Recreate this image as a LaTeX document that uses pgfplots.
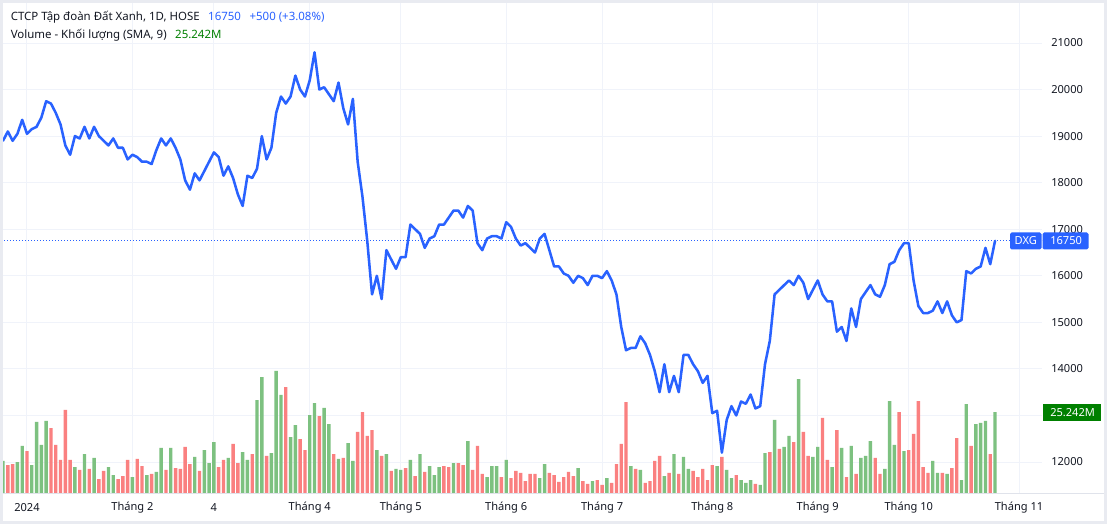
\documentclass[border=0pt]{standalone}
\usepackage{pgfplots}
\pgfplotsset{compat=1.18}
\usepackage{pgfplotstable}
\usepackage{fontspec}
\setmainfont{Noto Sans}
\definecolor{tvblue}{RGB}{41,98,255}
\definecolor{volg}{RGB}{125,193,128}
\definecolor{volr}{RGB}{250,128,128}
\definecolor{gridc}{RGB}{240,243,250}
\definecolor{txt}{RGB}{19,23,34}
\definecolor{dgreen}{RGB}{0,128,0}
\definecolor{framec}{RGB}{233,235,241}
\definecolor{axisc}{RGB}{224,227,235}

\pgfplotstableread{
i p
0 18900
1 19100
2 18900
3 19050
4 19350
5 19050
6 19150
7 19200
8 19400
9 19750
10 19700
11 19500
12 19250
13 18800
14 18600
15 19000
16 18950
17 19200
18 18950
19 19200
20 19000
21 18900
22 18800
23 18950
24 18750
25 18750
26 18500
27 18600
28 18550
29 18450
30 18450
31 18400
32 18700
33 18950
34 18800
35 18950
36 18750
37 18500
38 18050
39 17850
40 18200
41 18050
42 18250
43 18450
44 18650
45 18550
46 18150
47 18350
48 18100
49 17750
50 17500
51 18150
52 18100
53 18300
54 19000
55 18500
56 18750
57 19500
58 19850
59 19700
60 19850
61 20300
62 20000
63 19850
64 20200
65 20800
66 20000
67 20050
68 19900
69 19750
70 20150
71 19600
72 19250
73 19800
74 18450
75 17700
76 16750
77 15600
78 16000
79 15500
80 16550
81 16350
82 16150
83 16400
84 16400
85 17100
86 17000
87 16900
88 16600
89 16800
90 16850
91 17100
92 17100
93 17250
94 17400
95 17400
96 17250
97 17500
98 17400
99 16700
100 16550
101 16800
102 16850
103 16850
104 16800
105 17150
106 17050
107 16800
108 16650
109 16700
110 16600
111 16500
112 16800
113 16900
114 16550
115 16200
116 16200
117 16050
118 16000
119 15850
120 16000
121 15950
122 15800
123 16000
124 16000
125 15950
126 16100
127 15900
128 15600
129 14900
130 14400
131 14450
132 14450
133 14700
134 14550
135 14300
136 13950
137 13500
138 14100
139 13500
140 13850
141 13500
142 14300
143 14300
144 14100
145 13950
146 13700
147 13850
148 13050
149 13100
150 12200
151 12900
152 13200
153 13000
154 13300
155 13250
156 13450
157 13150
158 13200
159 14100
160 14600
161 15600
162 15700
163 15800
164 15900
165 15800
166 16000
167 15850
168 15500
169 15700
170 15900
171 15600
172 15450
173 15450
174 14800
175 14900
176 14600
177 15300
178 14900
179 15500
180 15650
181 15800
182 15600
183 15550
184 15800
185 16250
186 16300
187 16550
188 16700
189 16700
190 15900
191 15350
192 15200
193 15200
194 15250
195 15450
196 15200
197 15450
198 15150
199 15000
200 15050
201 16100
202 16050
203 16150
204 16200
205 16600
206 16250
207 16750
}\pricetab

\pgfplotstableread{
i v
0 10.2
3 9.8
4 14.8
6 8.9
7 22.2
8 15.1
9 22.5
15 8.3
17 12.3
19 11.1
22 8.3
23 5.8
27 5.2
30 5.8
32 6.8
33 14.2
35 14.2
40 11.4
42 13.5
43 9.5
44 16.0
47 11.1
50 12.9
51 10.5
53 28.9
54 36.0
56 12.6
57 37.9
58 30.5
60 17.5
61 21.2
64 24.3
65 28.0
67 26.5
68 21.5
70 10.8
72 15.7
73 10.2
78 13.5
80 12.3
82 7.7
83 7.4
85 10.5
87 12.3
89 8.6
90 5.8
91 8.3
94 9.5
97 16.3
101 5.2
102 8.6
103 8.6
105 10.5
112 4.9
113 9.2
120 8.0
123 4.0
126 4.9
131 8.6
133 7.4
138 5.5
140 12.3
142 11.4
143 7.7
149 8.6
151 7.4
152 4.9
154 4.3
155 3.4
156 4.3
158 2.8
159 12.6
161 22.8
163 14.5
164 17.9
166 35.4
169 11.4
170 14.5
173 8.3
175 14.2
177 14.8
179 11.1
180 11.7
181 16.3
184 7.7
185 28.6
186 15.1
188 13.2
194 10.2
195 6.5
197 6.2
200 4.3
201 27.7
203 21.5
204 21.9
205 22.5
207 25.242
}\greentab

\pgfplotstableread{
i v
1 8.9
2 9.2
5 13.2
10 20.3
11 15.1
12 10.5
13 25.9
14 10.5
16 7.4
18 7.7
20 4.6
21 7.1
24 4.6
25 5.5
26 10.5
28 10.8
29 8.6
31 6.2
34 7.4
36 8.0
37 7.7
38 14.5
39 9.2
41 7.1
45 8.3
46 10.5
48 15.4
49 9.5
52 12.3
55 11.7
59 32.9
62 16.9
63 13.5
66 24.0
69 12.3
71 11.1
74 19.1
75 25.2
76 17.9
77 19.7
79 11.7
81 7.1
84 8.0
86 5.5
88 6.8
92 8.6
93 8.3
95 9.5
96 8.9
98 7.4
99 14.8
100 6.2
104 5.2
106 4.9
107 7.1
108 6.5
109 4.0
110 6.2
111 6.2
114 6.5
115 5.8
116 3.7
117 5.2
118 6.8
119 5.5
121 4.0
122 3.1
124 4.3
125 2.8
127 3.4
128 9.2
129 15.4
130 28.3
132 7.7
134 3.4
135 4.0
136 10.2
137 11.7
139 6.5
141 6.2
144 7.1
145 5.2
146 7.7
147 4.3
148 8.9
150 11.4
153 5.8
157 3.1
160 12.9
162 13.9
165 16.0
167 19.1
168 11.7
171 23.4
172 10.5
174 19.7
176 5.2
178 6.2
182 11.1
183 6.2
187 25.2
189 13.5
190 18.5
191 28.6
192 8.3
193 6.5
196 6.5
198 8.0
199 17.2
202 14.8
206 12.3
}\redtab

\begin{document}
\begin{tikzpicture}
\useasboundingbox (0,0) rectangle (830.25pt,393pt);
\fill[white] (0,0) rectangle (830.25pt,393pt);
\pgfplotsset{base/.style={width=781.5pt,height=370.5pt,scale only axis,
  at={(0pt,22.5pt)},anchor=south west,xmin=-0.634,xmax=216.8,clip=true,
  scaled x ticks=false,scaled y ticks=false}}
% grid and tick labels
\begin{axis}[base,ymin=11313,ymax=21924,
  axis line style={draw=none},major tick length=0pt,
  ytick pos=right,yticklabel pos=right,
  ytick={12000,13000,14000,15000,16000,17000,18000,19000,20000,21000},
  yticklabels={12000,{},14000,15000,16000,17000,18000,19000,20000,21000},
  xtick={5,27,44,64,83,105,125,148,170,189,212},
  xticklabels={{\textbf{2024}},{Tháng 2},{4},{Tháng 4},{Tháng 5},{Tháng 6},{Tháng 7},{Tháng 8},{Tháng 9},{Tháng 10},{Tháng 11}},
  grid=major,major grid style={gridc,line width=0.75pt},
  ticklabel style={font=\fontsize{8.3pt}{10pt}\selectfont,text=txt},
  xticklabel style={anchor=center,yshift=-10.5pt},
  yticklabel style={anchor=west,inner sep=0pt,xshift=6.75pt}]
\addplot[draw=none] coordinates {(0,15000)};
\end{axis}
% volume
\begin{axis}[base,ymin=0,ymax=152.1,hide axis]
\addplot[ybar,bar width=2.55pt,bar shift=0pt,fill=volg,draw=none] table[x=i,y=v]{\greentab};
\addplot[ybar,bar width=2.55pt,bar shift=0pt,fill=volr,draw=none] table[x=i,y=v]{\redtab};
\end{axis}
% price
\begin{axis}[base,ymin=11313,ymax=21924,hide axis]
\addplot[tvblue,line width=0.75pt,dash pattern=on 0.75pt off 1.5pt] coordinates {(-1,16750) (217,16750)};
\addplot[tvblue,line width=1.9pt,line join=round,line cap=round,mark=none] table[x=i,y=p]{\pricetab};
\end{axis}
\begin{scope}[x=0.75pt,y=-0.75pt,shift={(0pt,393pt)}]
\draw[axisc,line width=0.75pt] (0,494) -- (1106,494);
\draw[framec,line width=1.9pt] (1.25,1.25) rectangle (1105.75,522.75);
% legend
\node[anchor=base west,inner sep=0pt,text=txt,font=\fontsize{8.6pt}{10pt}\selectfont] (l1) at (10.5,20.7) {CTCP Tập đoàn Đất Xanh, 1D, HOSE};
\node[anchor=base west,inner sep=0pt,text=tvblue,font=\fontsize{8.6pt}{10pt}\selectfont] (l2) at ([xshift=6pt]l1.base east) {16750};
\node[anchor=base west,inner sep=0pt,text=tvblue,font=\fontsize{8.6pt}{10pt}\selectfont] at ([xshift=6pt]l2.base east) {+500 (+3.08\%)};
\node[anchor=base west,inner sep=0pt,text=txt,font=\fontsize{8.6pt}{10pt}\selectfont] (v1) at (10.5,38.3) {Volume - Khối lượng (SMA, 9)};
\node[anchor=base west,inner sep=0pt,text=dgreen,font=\fontsize{8.6pt}{10pt}\selectfont] at ([xshift=6pt]v1.base east) {25.242M};
% price labels
\fill[tvblue,rounded corners=1.2pt] (1010,232.5) rectangle (1041.5,249.5);
\node[text=white,inner sep=0pt,font=\bfseries\fontsize{8.3pt}{10pt}\selectfont] at (1025.75,241) {DXG};
\fill[tvblue,rounded corners=1.2pt] (1042.5,232.5) rectangle (1088.5,249.5);
\node[text=white,anchor=west,inner sep=0pt,font=\bfseries\fontsize{8.3pt}{10pt}\selectfont] at (1050,241) {16750};
\fill[dgreen] (1042.5,404.5) rectangle (1101,421);
\node[text=white,anchor=west,inner sep=0pt,font=\bfseries\fontsize{8.3pt}{10pt}\selectfont] at (1050,412.75) {25.242M};
\end{scope}
\end{tikzpicture}
\end{document}
